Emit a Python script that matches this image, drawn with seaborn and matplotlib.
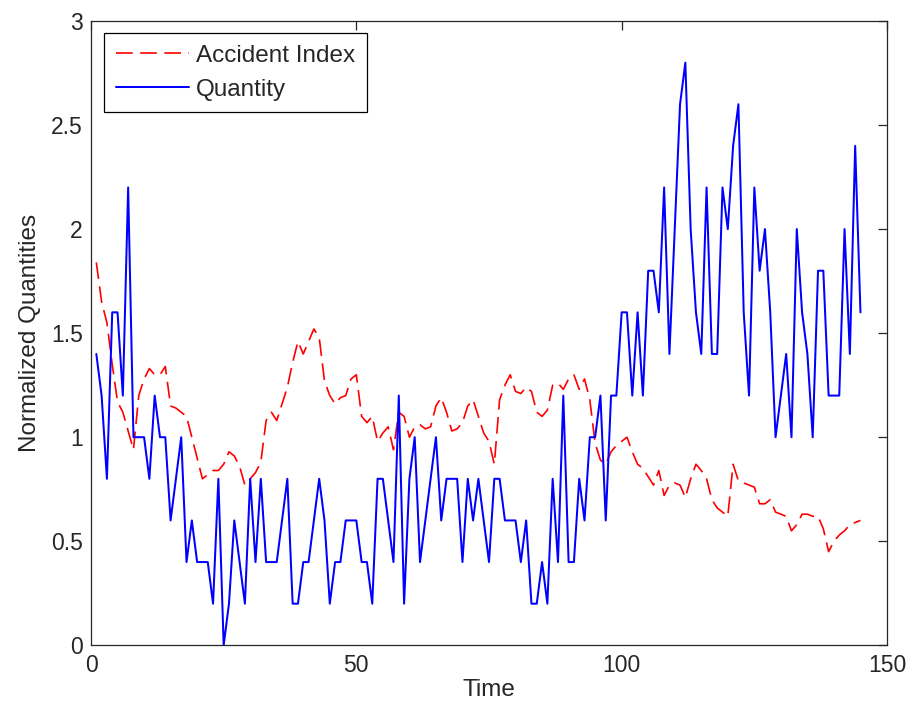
import numpy as np
import pandas as pd
import matplotlib
matplotlib.use("Agg")
import matplotlib.pyplot as plt
import seaborn as sns

# ---------------- data ----------------
time = list(range(1, 146))

accident_index = [
    1.84, 1.65, 1.55, 1.35, 1.17, 1.12, 1.03, 0.94, 1.20, 1.28,
    1.33, 1.30, 1.30, 1.34, 1.15, 1.14, 1.12, 1.10, 1.00, 0.90,
    0.80, 0.82, 0.84, 0.84, 0.87, 0.93, 0.91, 0.86, 0.77, 0.80,
    0.83, 0.88, 1.08, 1.12, 1.08, 1.16, 1.24, 1.36, 1.46, 1.40,
    1.46, 1.52, 1.48, 1.27, 1.20, 1.16, 1.19, 1.20, 1.28, 1.30,
    1.10, 1.07, 1.10, 0.98, 1.02, 1.05, 0.94, 1.12, 1.10, 1.00,
    1.05, 1.06, 1.04, 1.05, 1.15, 1.19, 1.12, 1.03, 1.04, 1.07,
    1.15, 1.18, 1.10, 1.02, 0.98, 0.87, 1.18, 1.25, 1.30, 1.22,
    1.21, 1.24, 1.22, 1.12, 1.10, 1.13, 1.25, 1.26, 1.23, 1.28,
    1.30, 1.23, 1.28, 1.18, 0.97, 0.89, 0.87, 0.93, 0.96, 0.98,
    1.00, 0.93, 0.87, 0.85, 0.81, 0.77, 0.84, 0.72, 0.77, 0.78,
    0.77, 0.71, 0.80, 0.87, 0.84, 0.80, 0.70, 0.66, 0.64, 0.62,
    0.87, 0.79, 0.78, 0.77, 0.76, 0.68, 0.68, 0.70, 0.64, 0.63,
    0.62, 0.55, 0.58, 0.63, 0.63, 0.62, 0.62, 0.56, 0.45, 0.50,
    0.53, 0.55, 0.58, 0.59, 0.60,
]

quantity = [
    1.4, 1.2, 0.8, 1.6, 1.6, 1.2, 2.2, 1.0, 1.0, 1.0,
    0.8, 1.2, 1.0, 1.0, 0.6, 0.8, 1.0, 0.4, 0.6, 0.4,
    0.4, 0.4, 0.2, 0.8, 0.0, 0.2, 0.6, 0.4, 0.2, 0.8,
    0.4, 0.8, 0.4, 0.4, 0.4, 0.6, 0.8, 0.2, 0.2, 0.4,
    0.4, 0.6, 0.8, 0.6, 0.2, 0.4, 0.4, 0.6, 0.6, 0.6,
    0.4, 0.4, 0.2, 0.8, 0.8, 0.6, 0.4, 1.2, 0.2, 0.8,
    1.0, 0.4, 0.6, 0.8, 1.0, 0.6, 0.8, 0.8, 0.8, 0.4,
    0.8, 0.6, 0.8, 0.6, 0.4, 0.8, 0.8, 0.6, 0.6, 0.6,
    0.4, 0.6, 0.2, 0.2, 0.4, 0.2, 0.8, 0.4, 1.2, 0.4,
    0.4, 0.8, 0.6, 1.0, 1.0, 1.2, 0.6, 1.2, 1.2, 1.6,
    1.6, 1.2, 1.6, 1.2, 1.8, 1.8, 1.6, 2.2, 1.4, 2.0,
    2.6, 2.8, 2.0, 1.6, 1.4, 2.2, 1.4, 1.4, 2.2, 2.0,
    2.4, 2.6, 1.6, 1.2, 2.2, 1.8, 2.0, 1.6, 1.0, 1.2,
    1.4, 1.0, 2.0, 1.6, 1.4, 1.0, 1.8, 1.8, 1.2, 1.2,
    1.2, 2.0, 1.4, 2.4, 1.6,
]

series_names = ["Accident Index", "Quantity"]
x_ticks = [0, 50, 100, 150]
y_ticks = [0, 0.5, 1, 1.5, 2, 2.5, 3]
y_tick_labels = ["0", "0.5", "1", "1.5", "2", "2.5", "3"]
x_label = "Time"
y_label = "Normalized Quantities"

# ---------------- style ----------------
sns.set_theme(style="white")
plt.rcParams["font.family"] = ["Liberation Sans", "DejaVu Sans"]
plt.rcParams.update({
    "axes.edgecolor": "#262626",
    "axes.linewidth": 0.9,
    "xtick.direction": "in",
    "ytick.direction": "in",
    "xtick.top": True,
    "ytick.right": True,
    "xtick.major.size": 6.5,
    "ytick.major.size": 6.5,
    "xtick.major.width": 0.9,
    "ytick.major.width": 0.9,
    "xtick.color": "#262626",
    "ytick.color": "#262626",
    "xtick.labelcolor": "#262626",
    "ytick.labelcolor": "#262626",
    "axes.labelcolor": "#262626",
})

FS_TICK = 16.5
FS_LABEL = 17.5
FS_LEG = 17.5

fig = plt.figure(figsize=(9.10, 7.13), dpi=100)
ax = fig.add_axes([91 / 910, 1 - 645.3 / 713, (887 - 91) / 910, (645.3 - 21) / 713])

df = pd.DataFrame({"Time": time,
                   series_names[0]: accident_index,
                   series_names[1]: quantity})

sns.lineplot(data=df, x="Time", y=series_names[0], ax=ax, color="#ff0000",
             linewidth=1.2, label=series_names[0])
sns.lineplot(data=df, x="Time", y=series_names[1], ax=ax, color="#0000ff",
             linewidth=1.45, label=series_names[1])
ax.lines[0].set_dashes((10, 4.5))

ax.set_xlim(0, 150)
ax.set_ylim(0, 3)
ax.set_xticks(x_ticks)
ax.set_xticklabels([str(t) for t in x_ticks])
ax.set_yticks(y_ticks)
ax.set_yticklabels(y_tick_labels)
ax.tick_params(axis="both", labelsize=FS_TICK, pad=6)
ax.set_xlabel(x_label, fontsize=FS_LABEL, labelpad=2)
ax.set_ylabel(y_label, fontsize=FS_LABEL, labelpad=7)
for s in ax.spines.values():
    s.set_visible(True)

leg = ax.legend(loc="upper left", bbox_to_anchor=(0.0163, 0.981),
                borderaxespad=0, frameon=True, fancybox=False,
                edgecolor="black", framealpha=1, fontsize=FS_LEG,
                handlelength=3.0, handletextpad=0.3, labelspacing=0.5,
                borderpad=0.48)
leg.get_frame().set_linewidth(0.9)
leg.get_lines()[0].set_dashes((10, 4.5))

fig.savefig("out.png", dpi=100)
